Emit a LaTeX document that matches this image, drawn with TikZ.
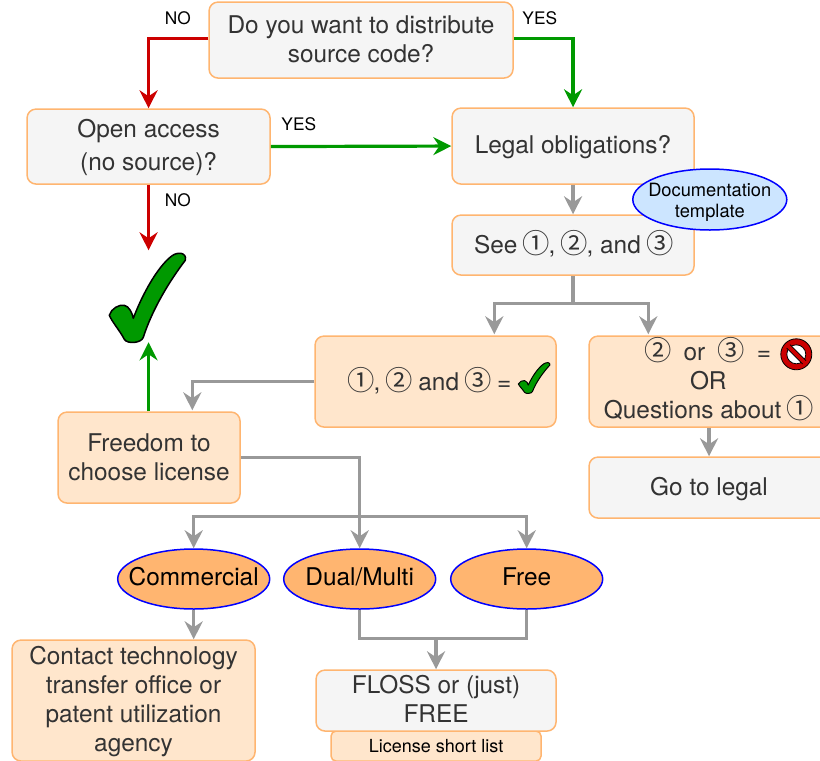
\documentclass[tikz,border=0pt]{standalone}
\usepackage{fontspec}
\usepackage{tikz}
\usetikzlibrary{shapes.geometric,arrows.meta,calc}
\setmainfont{TeX Gyre Heros}
\newfontfamily\circfont{Noto Sans CJK JP}[Scale=1.12]
\newcommand{\cnum}[1]{\kern-.06em\relax{\circfont #1}\kern-.06em\relax}
\definecolor{boxline}{HTML}{FFB570}
\definecolor{greyfill}{HTML}{F5F5F5}
\definecolor{peach}{HTML}{FFE6CC}
\definecolor{inktext}{HTML}{333333}
\definecolor{ovalorange}{HTML}{FFB570}
\definecolor{ovalblue}{HTML}{CCE5FF}
\definecolor{yesgreen}{HTML}{009900}
\definecolor{nored}{HTML}{CC0000}
\definecolor{linegrey}{HTML}{999999}
\tikzset{
  x=1pt,y=-1pt,
  bigtext/.style={font=\fontsize{24.4}{29}\selectfont},
  boxbase/.style={rounded corners=9pt,draw=boxline,line width=1.5pt,text=inktext,align=center,inner sep=0pt,
    bigtext,anchor=north west},
  greybox/.style={boxbase,fill=greyfill},
  peachbox/.style={boxbase,fill=peach},
  boxtext/.style={text=inktext,bigtext,inner sep=0pt,align=center},
  oval/.style={ellipse,draw=blue,line width=1.5pt,inner sep=-20pt,align=center,text=black},
  conn/.style={line width=3.2pt,-{Stealth[length=18pt,width=18pt,inset=6pt]}},
  plain/.style={line width=3.2pt},
  nolink/.style={conn,draw=nored},
  yeslink/.style={conn,draw=yesgreen},
  greylink/.style={conn,line width=3.5pt,draw=linegrey},
  greyplain/.style={plain,line width=3.5pt,draw=linegrey},
  lab/.style={font=\fontsize{17.3}{19}\selectfont,text=black,inner sep=0pt},
  bigcheck/.pic={
    \draw[fill=yesgreen,draw=black,line width=#1,line join=round]
      (110,316) .. controls (112,309) and (120,305) .. (125,306)
      .. controls (130,307) and (133,314) .. (134,319)
      .. controls (143,295) and (158,268) .. (172,257)
      .. controls (178,252) and (188,253) .. (186,261)
      .. controls (170,282) and (153,310) .. (144,338)
      .. controls (142,344) and (128,345) .. (125,340)
      .. controls (121,332) and (113,323) .. (110,316) -- cycle;
  },
}
\begin{document}
\begin{tikzpicture}
\useasboundingbox (0.7,0.7) rectangle (820.7,761.7);
\clip (0.7,0.7) rectangle (820.7,761.7);
% boxes
\node[greybox,minimum width=304pt,minimum height=76pt] (q1) at (209,2) {};
\node[boxtext] (q1t) at ($(q1.center)+(0,-1)$) {Do you want to distribute\\source code?};
\node[greybox,minimum width=243pt,minimum height=75pt] (open) at (27,109) {};
\node[boxtext] (opent) at ($(open.center)+(0,0.5)$) {Open access\\[4pt](no source)?};
\node[greybox,minimum width=242pt,minimum height=76pt] (legal) at (452,108) {};
\node[boxtext] (legalt) at ($(legal.center)+(0,1)$) {Legal obligations?};
\node[greybox,minimum width=242pt,minimum height=60pt] (see) at (452,215) {};
\node[boxtext] (seet) at ($(see.center)+(0,-1.5)$) {See \cnum{①}, \cnum{②}, and \cnum{③}};
\node[oval,fill=ovalblue,minimum width=154pt,minimum height=61pt] (doc) at (710.5,200.2) {};
\node[boxtext,text=black,font=\fontsize{18.3}{21}\selectfont] (doct) at ($(doc.center)+(0,2.5)$) {Documentation\\template};
\node[peachbox,minimum width=241pt,minimum height=91pt] (okbox) at (315,336) {};
\node[boxtext] (oktext) at (431,381) {\cnum{①}, \cnum{②} and \cnum{③} =};
\node[peachbox,minimum width=240pt,minimum height=91pt] (badbox) at (589,336) {};
\node[boxtext] (badtext) at (709,380) {\cnum{②}\ \ or\ \ \cnum{③}\ \ =\\OR\\Questions about \cnum{①}};
\node[greybox,minimum width=240pt,minimum height=61pt] (golegal) at (589,457) {};
\node[boxtext] (golegalt) at ($(golegal.center)+(0,1)$) {Go to legal};
\node[peachbox,minimum width=182pt,minimum height=91pt] (freedom) at (58,412) {Freedom to\\choose license};
\node[oval,fill=ovalorange,minimum width=152pt,minimum height=60pt,bigtext,text depth=4.4pt] (comm) at (194.4,579.7) {Commercial};
\node[oval,fill=ovalorange,minimum width=152pt,minimum height=60pt,bigtext,text depth=4.4pt] (dual) at (360.4,579.7) {Dual/Multi};
\node[oval,fill=ovalorange,minimum width=152pt,minimum height=60pt,bigtext,text depth=4.4pt] (free) at (527.4,579.7) {Free};
\node[peachbox,minimum width=243pt,minimum height=121pt] (contact) at (12,640) {};
\node[boxtext] (contactt) at ($(contact.center)+(0,1)$) {Contact technology\\transfer office or\\patent utilization\\agency};
\node[peachbox,minimum width=210pt,minimum height=30pt,font=\fontsize{18}{19}\selectfont,text=black,rounded corners=5pt] (short) at (331,731) {License short list};
\node[greybox,minimum width=240pt,minimum height=61pt] (floss) at (316,670) {};
\node[boxtext] (flosst) at ($(floss.center)+(0,-2)$) {FLOSS or (just)\\FREE};
% icons
\pic at (0,0) {bigcheck=1.5pt};
\begin{scope}[shift={(519,363)},xscale=.415,yscale=.345,shift={(-110,-253)}]
\pic[transform shape] at (0,0) {bigcheck=1pt};
\end{scope}
\node[circle,draw=black,fill=nored,line width=.8pt,minimum size=31pt,inner sep=0pt] (nosign) at (797,355) {};
\fill[white] (nosign.center) circle (9.5pt);
\draw[black,line width=.8pt] (nosign.center) circle (9.5pt);
\draw[black,line width=5.5pt] ($(nosign.center)+(-8,-8)$) -- ($(nosign.center)+(8,8)$);
\draw[nored,line width=3.8pt] ($(nosign.center)+(-10,-10)$) -- ($(nosign.center)+(10,10)$);
% junctions
\coordinate (jsee) at (see.south |- 0,304);
\coordinate (jfree) at (dual.north |- 0,517);
\coordinate (jfloss) at (floss.north |- 0,639);
% connectors
\draw[nolink] (q1.west |- 0,39) -| (open.north);
\draw[yeslink] (q1.east |- 0,39) -| (legal.north);
\draw[yeslink] (open.east) -- (legal.west);
\draw[nolink] (open.south) -- (open.south |- 0,251);
\draw[yeslink] (freedom.north -| open.south) -- (open.south |- 0,343);
\draw[greylink] (legal.south) -- (see.north);
\draw[greyplain] (see.south) -- (jsee);
\draw[greylink] (jsee) -| (495,335);
\draw[greylink] (jsee) -| (649,335);
\draw[greylink] (badbox.south -| golegal.north) -- (golegal.north);
\draw[greylink] (okbox.west) -| (193,411);
\draw[greylink] (freedom.east) -| (dual.north);
\draw[greylink] (jfree) -| (comm.north);
\draw[greylink] (jfree) -| (free.north);
\draw[greylink] (comm.south) -- (contact.north -| comm.south);
\draw[greyplain] (dual.south) |- (jfloss);
\draw[greyplain] (free.south) |- (jfloss);
\draw[greylink] (jfloss) -- (floss.north);
% labels
\node[lab] (l1) at (178.5,19) {NO};
\node[lab] (l2) at (540.5,19) {YES};
\node[lab] (l3) at (299.5,125) {YES};
\node[lab] (l4) at (178.5,201) {NO};
\end{tikzpicture}
\end{document}
